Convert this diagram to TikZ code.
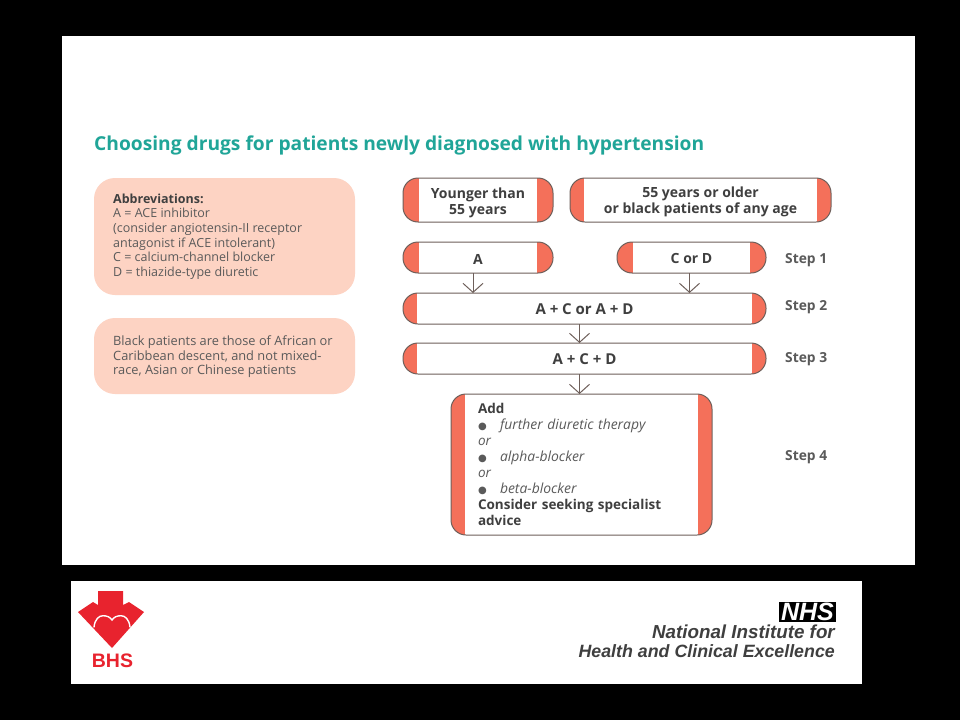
\documentclass[tikz,border=0pt]{standalone}
\usepackage{fontspec}
\setmainfont{Open Sans}
\newfontfamily\logofont{Liberation Sans}
\newfontfamily\dotfont{DejaVu Sans}
\usetikzlibrary{arrows.meta}
\definecolor{capred}{HTML}{F4705A}
\definecolor{edgec}{HTML}{6E5F5A}
\definecolor{peach}{HTML}{FDD3C3}
\definecolor{teal1}{HTML}{20A598}
\definecolor{inkc}{HTML}{3F3F3F}
\definecolor{softink}{HTML}{5A5A5A}
\definecolor{bhsred}{HTML}{E8232E}
\newcommand{\bigdot}{\makebox[22pt][l]{\dotfont\fontsize{10}{10}\selectfont ●}}
\tikzset{
  x=1pt,y=-1pt,
  capbox/.style n args={4}{draw=edgec,line width=1pt,rounded corners=#1,
    minimum width=#2,minimum height=#3,inner sep=0pt,outer sep=0pt,align=center,
    text=inkc,font=\fontsize{14}{16}\selectfont\bfseries,
    path picture={
      \fill[capred,sharp corners] (path picture bounding box.south west) rectangle
        ([xshift=#4]path picture bounding box.north west);
      \fill[capred,sharp corners] (path picture bounding box.south east) rectangle
        ([xshift=-#4]path picture bounding box.north east);
    }},
  infobox/.style={fill=peach,rounded corners=21pt,inner sep=0pt,outer sep=0pt,
    minimum width=261pt},
  infotext/.style={anchor=north west,inner sep=0pt,align=left,text=softink,
    font=\fontsize{12.5}{14.6}\selectfont},
  steplabel/.style={anchor=west,inner sep=0pt,text=softink,font=\fontsize{13.8}{16}\selectfont\bfseries},
  flow/.style={draw=edgec,line width=1pt,-{Straight Barb[length=9pt,width=20pt,line width=1pt]}},
}
\begin{document}
\begin{tikzpicture}
\useasboundingbox (0,0) rectangle (960,720);
\fill[black] (0,0) rectangle (960,720);
\fill[white] (62,36) rectangle (915,565);
\fill[white] (71,581) rectangle (862,684);

\node[anchor=west,inner sep=0pt,text=teal1,font=\fontsize{19.2}{22}\selectfont\bfseries] (title) at (94,145)
  {Choosing drugs for patients newly diagnosed with hypertension};

% left panels
\node[infobox,minimum height=117pt] (abbr) at (224.5,236.5) {};
\node[infotext] (abbrtext) at (113,193.5) {{\bfseries\color{inkc}Abbreviations:}\\A = ACE inhibitor\\(consider angiotensin-II receptor\\antagonist if ACE intolerant)\\C = calcium-channel blocker\\D = thiazide-type diuretic};
\node[infobox,minimum height=76pt] (black) at (224.5,356) {};
\node[infotext,font=\fontsize{12.8}{14.6}\selectfont] (blacktext) at (113,335.5) {Black patients are those of African or\\Caribbean descent, and not mixed-\\race, Asian or Chinese patients};

% flow
\node[capbox={15pt}{150pt}{44pt}{16pt}] (young) at (478,200) {\rule{0pt}{17pt}Younger than\\55 years};
\node[capbox={15pt}{261pt}{44pt}{14pt}] (old) at (700.5,200) {\rule{0pt}{15pt}55 years or older\\or black patients of any age};
\node[capbox={15pt}{150pt}{31pt}{16pt}] (a) at (478,257.5) {\rule{0pt}{13pt}A};
\node[capbox={15pt}{149pt}{31pt}{16pt}] (cd) at (691.5,257.5) {\rule{0pt}{13pt}C or D};
\node[capbox={15pt}{363pt}{31pt}{14pt},font=\fontsize{15}{16}\selectfont\bfseries] (two) at (584.5,308.5) {\rule{0pt}{13pt}A + C or A + D};
\node[capbox={15pt}{363pt}{31pt}{14pt},font=\fontsize{15}{16}\selectfont\bfseries] (three) at (584.5,358.5) {\rule{0pt}{13pt}A + C + D};
\node[capbox={15pt}{261pt}{141pt}{14pt},text width=207pt,align=left,
  font=\fontsize{13.5}{15.95}\selectfont] (add) at (581.5,464.5)
  {\begingroup\bfseries Add\endgroup\\
   {\color{softink}\bigdot\fontsize{13.9}{15.95}\selectfont\itshape further diuretic therapy}\\
   {\color{softink}\itshape or}\\
   {\color{softink}\bigdot\fontsize{13.9}{15.95}\selectfont\itshape alpha-blocker}\\
   {\color{softink}\itshape or}\\
   {\color{softink}\bigdot\fontsize{13.9}{15.95}\selectfont\itshape beta-blocker}\\
   {\bfseries Consider seeking specialist}\\
   {\bfseries advice}};

\coordinate (a2) at ([xshift=-5pt]a.south);
\coordinate (c2) at ([xshift=-2pt]cd.south);
\coordinate (t3) at ([xshift=-5pt]two.south);
\coordinate (h4) at ([xshift=-5pt]three.south);
\draw[flow] (a2) -- (a2 |- two.north);
\draw[flow] (c2) -- (c2 |- two.north);
\draw[flow] (t3) -- (t3 |- three.north);
\draw[flow] (h4) -- (h4 |- add.north);

\node[steplabel] (s1) at (785,260) {Step 1};
\node[steplabel] (s2) at (785,307) {Step 2};
\node[steplabel] (s3) at (785,359) {Step 3};
\node[steplabel] (s4) at (785,457) {Step 4};

% BHS logo
\fill[bhsred] (98,591) -- (123,591) -- (123,605) -- (129,602) -- (144,612) -- (112,648)
  -- (78,612) -- (93,602) -- (98,605) -- cycle;
\draw[white,line width=1.4pt,line cap=round] (94,627) .. controls (95,619) and (99,615.7) .. (103,615.7)
  .. controls (107,615.7) and (110,617) .. (112,620) .. controls (114,617) and (117,615.7) .. (121,615.7)
  .. controls (125,615.7) and (129,619) .. (130,627);
\node[inner sep=0pt,text=bhsred,font=\logofont\fontsize{19.5}{20}\selectfont\bfseries] (bhs) at (112.5,660.5) {BHS};

% NHS logo
\node[fill=black,text=white,inner sep=0pt,minimum width=57pt,minimum height=20pt,
  font=\logofont\fontsize{25}{20}\selectfont\bfseries\itshape] (nhs) at (807.5,612) {NHS};
\node[anchor=east,inner sep=0pt,text=inkc,font=\logofont\fontsize{18.8}{20}\selectfont\bfseries\itshape] (nice1) at (835,632) {National Institute for};
\node[anchor=east,inner sep=0pt,text=inkc,font=\logofont\fontsize{17.8}{20}\selectfont\bfseries\itshape] (nice2) at (835,651) {Health and Clinical Excellence};
\end{tikzpicture}
\end{document}
